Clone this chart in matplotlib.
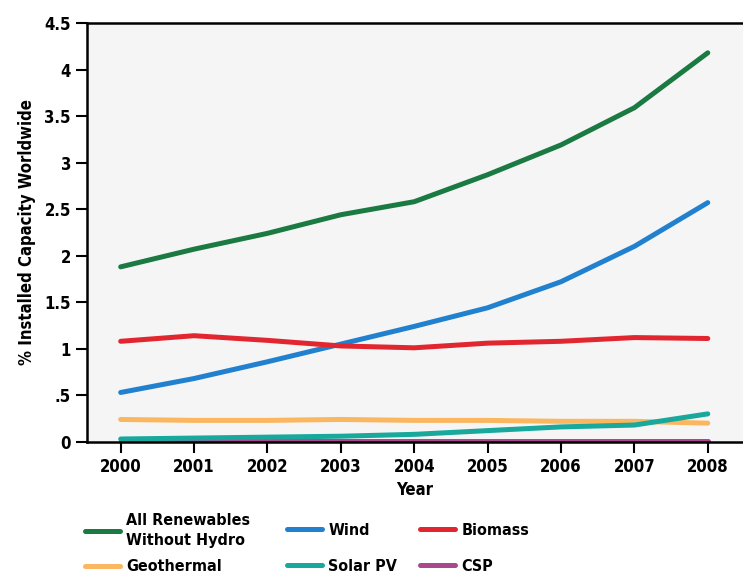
import matplotlib.pyplot as plt

years = [2000, 2001, 2002, 2003, 2004, 2005, 2006, 2007, 2008]
all_renewables = [1.88, 2.07, 2.24, 2.44, 2.58, 2.87, 3.19, 3.59, 4.18]
wind = [0.53, 0.68, 0.86, 1.05, 1.24, 1.44, 1.72, 2.10, 2.57]
biomass = [1.08, 1.14, 1.09, 1.03, 1.01, 1.06, 1.08, 1.12, 1.11]
geothermal = [0.24, 0.23, 0.23, 0.24, 0.23, 0.23, 0.22, 0.22, 0.20]
solar_pv = [0.03, 0.04, 0.05, 0.06, 0.08, 0.12, 0.16, 0.18, 0.30]
csp = [0.01, 0.01, 0.01, 0.01, 0.01, 0.01, 0.01, 0.01, 0.01]

ytick_vals = [0, 0.5, 1, 1.5, 2, 2.5, 3, 3.5, 4, 4.5]
ytick_labels = ["0", ".5", "1", "1.5", "2", "2.5", "3", "3.5", "4", "4.5"]

plt.rcParams["font.family"] = ["DejaVu Sans"]
plt.rcParams["font.stretch"] = "condensed"
plt.rcParams["font.weight"] = "bold"

fig = plt.figure(figsize=(7.43, 5.76), dpi=100)
ax = fig.add_axes([0.117, 0.233, 0.883, 0.727])
ax.set_facecolor("#f5f5f5")

lw = 3.6
l_all, = ax.plot(years, all_renewables, color="#1b7a42", lw=lw, label="All Renewables\nWithout Hydro", solid_capstyle="round")
l_wind, = ax.plot(years, wind, color="#2181cf", lw=lw, label="Wind", solid_capstyle="round")
l_bio, = ax.plot(years, biomass, color="#e2262f", lw=lw, label="Biomass", solid_capstyle="round")
l_geo, = ax.plot(years, geothermal, color="#fbb660", lw=lw, label="Geothermal", solid_capstyle="round")
l_csp, = ax.plot(years, csp, color="#a9498c", lw=lw, label="CSP", solid_capstyle="round")
l_pv, = ax.plot(years, solar_pv, color="#18a89c", lw=lw, label="Solar PV", solid_capstyle="round")

ax.set_xlim(1999.54, 2008.48)
ax.set_ylim(0, 4.5)
ax.set_xticks(years)
ax.set_xticklabels([str(y) for y in years])
ax.set_yticks(ytick_vals)
ax.set_yticklabels(ytick_labels)
ax.tick_params(axis="both", direction="out", length=8, width=1.5, labelsize=12)
ax.tick_params(axis="x", pad=4)

for s in ["left", "top", "bottom"]:
    ax.spines[s].set_linewidth(1.8)
ax.spines["right"].set_visible(False)

ax.set_xlabel("Year", fontsize=12, fontweight="bold", labelpad=3)
ax.set_ylabel("% Installed Capacity Worldwide", fontsize=12, fontweight="bold", labelpad=6)

# legend: three columns, the first one has a two-line label
leg_kw = dict(loc="upper left", frameon=False, fontsize=11.5, handlelength=2.2,
              handletextpad=0.4, borderpad=0, borderaxespad=0)
col1 = fig.legend([l_all, l_geo], [l_all.get_label(), l_geo.get_label()],
                  bbox_to_anchor=(0.114, 0.110), labelspacing=0.7, **leg_kw)
for t in col1.get_texts():
    t.set_linespacing(1.45)
col2 = fig.legend([l_wind, l_pv], [l_wind.get_label(), l_pv.get_label()],
                  bbox_to_anchor=(0.386, 0.092), labelspacing=1.3, **leg_kw)
col3 = fig.legend([l_bio, l_csp], [l_bio.get_label(), l_csp.get_label()],
                  bbox_to_anchor=(0.565, 0.092), labelspacing=1.3, **leg_kw)

fig.savefig("out.png", dpi=100)
